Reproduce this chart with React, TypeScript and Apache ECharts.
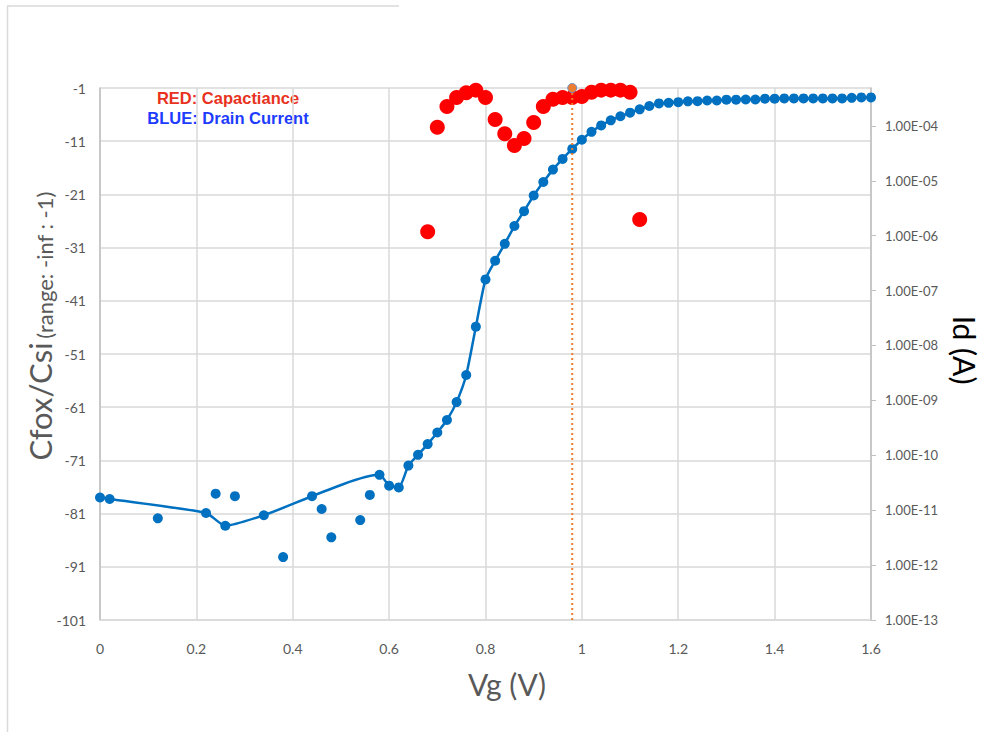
import React, { useEffect, useRef } from "react";
import * as echarts from "echarts";

// ---- Data ----
// Red: capacitance ratio Cfox/Csi (left axis)
const capVg = [0.68, 0.7, 0.72, 0.74, 0.76, 0.78, 0.8, 0.82, 0.84, 0.86, 0.88, 0.9, 0.92, 0.94, 0.96, 0.98, 1.0, 1.02, 1.04, 1.06, 1.08, 1.1, 1.12];
const capValues = [-28.0, -8.4, -4.5, -2.8, -1.9, -1.4, -2.8, -6.9, -9.6, -11.8, -10.5, -7.5, -4.5, -3.1, -2.8, -2.8, -2.6, -1.8, -1.4, -1.4, -1.4, -1.8, -25.7];

// Blue: drain current Id (A), points on the smoothed curve (right axis, log)
const idLineVg = [0, 0.02, 0.22, 0.26, 0.34, 0.58, 0.6, 0.62, 0.64, 0.66, 0.68, 0.7, 0.72, 0.74, 0.76, 0.78, 0.8, 0.82, 0.84, 0.86, 0.88, 0.9, 0.92, 0.94, 0.96, 0.98, 1.0, 1.02, 1.04, 1.06, 1.08, 1.1, 1.12, 1.14, 1.16, 1.18, 1.2, 1.22, 1.24, 1.26, 1.28, 1.3, 1.32, 1.34, 1.36, 1.38, 1.4, 1.42, 1.44, 1.46, 1.48, 1.5, 1.52, 1.54, 1.56, 1.58, 1.6];
const idLineValues = [1.7e-11, 1.6e-11, 8.9e-12, 5.2e-12, 8.1e-12, 4.4e-11, 2.8e-11, 2.6e-11, 6.5e-11, 1.02e-10, 1.6e-10, 2.6e-10, 4.4e-10, 9.3e-10, 2.9e-9, 2.2e-8, 1.6e-7, 3.5e-7, 7.1e-7, 1.5e-6, 2.8e-6, 5.4e-6, 9.5e-6, 1.6e-5, 2.5e-5, 3.8e-5, 5.6e-5, 7.8e-5, 1.02e-4, 1.26e-4, 1.5e-4, 1.74e-4, 2.0e-4, 2.3e-4, 2.57e-4, 2.63e-4, 2.7e-4, 2.8e-4, 2.82e-4, 2.9e-4, 2.9e-4, 3.0e-4, 3.0e-4, 3.02e-4, 3.02e-4, 3.13e-4, 3.13e-4, 3.16e-4, 3.16e-4, 3.16e-4, 3.16e-4, 3.16e-4, 3.16e-4, 3.16e-4, 3.24e-4, 3.3e-4, 3.3e-4];

// Blue: scattered drain current points off the curve
const idScatterVg = [0.12, 0.24, 0.28, 0.38, 0.44, 0.46, 0.48, 0.54, 0.56];
const idScatterValues = [7.1e-12, 2.0e-11, 1.8e-11, 1.4e-12, 1.8e-11, 1.05e-11, 3.2e-12, 6.6e-12, 1.9e-11];

// Vertical marker
const markerVg = 0.98;
const markerRange = [-1, -101];

// Axis settings (values)
const leftMin = -101;
const leftMax = -1;
const leftStep = 10;
const rightMinExp = -13;
const rightMaxExp = -3.31;
const xMin = 0;
const xMax = 1.6;
const xStep = 0.2;

const GRAY_TEXT = "#595959";
const GRID = "#D9D9D9";
const AXIS = "#BFBFBF";
const BLUE = "#0070C0";
const RED = "#FF0000";
const ORANGE = "#ED7D31";
const FONT = "Lato, 'Noto Sans', sans-serif";

function sciLabel(v: number): string {
  if (Math.abs(v - Math.round(v)) > 1e-6) return "";
  const e = Math.round(v);
  const sign = e < 0 ? "-" : "+";
  const a = Math.abs(e);
  return "1.00E" + sign + (a < 10 ? "0" + a : String(a));
}

export default function App() {
  const ref = useRef<HTMLDivElement>(null);

  useEffect(() => {
    if (!ref.current) return;
    const chart = echarts.init(ref.current, undefined, { renderer: "svg" });

    const option: any = {
      animation: false,
      backgroundColor: "#ffffff",
      grid: { left: 100, top: 88, width: 771, height: 532, containLabel: false },
      xAxis: {
        type: "value",
        min: xMin,
        max: xMax,
        interval: xStep,
        axisLine: { show: true, onZero: false, lineStyle: { color: GRID, width: 1.5 } },
        axisTick: { show: false },
        splitLine: { show: true, lineStyle: { color: GRID, width: 1.5 } },
        axisLabel: { color: GRAY_TEXT, fontSize: 14, fontFamily: FONT, margin: 21 },
      },
      yAxis: [
        {
          type: "value",
          min: leftMin,
          max: leftMax,
          interval: leftStep,
          axisLine: { show: true, onZero: false, lineStyle: { color: AXIS, width: 1.5 } },
          axisTick: { show: false },
          splitLine: { show: true, lineStyle: { color: GRID, width: 1.5 } },
          axisLabel: { color: GRAY_TEXT, fontSize: 14, fontFamily: FONT, margin: 14 },
        },
        {
          type: "value",
          position: "right",
          min: rightMinExp,
          max: rightMaxExp,
          interval: 1,
          axisLine: { show: true, onZero: false, lineStyle: { color: AXIS, width: 1.5 } },
          axisTick: { show: true, length: 5, lineStyle: { color: AXIS } },
          splitLine: { show: false },
          axisLabel: {
            color: GRAY_TEXT,
            fontSize: 13,
            fontFamily: FONT,
            margin: 14,
            showMaxLabel: false,
            formatter: (v: number) => sciLabel(v),
          },
        },
      ],
      series: [
        {
          name: "Drain Current",
          type: "line",
          yAxisIndex: 1,
          smooth: 0.2,
          data: idLineVg.map((x, i) => [x, Math.log10(idLineValues[i])]),
          symbol: "circle",
          symbolSize: 10,
          showSymbol: true,
          itemStyle: { color: BLUE, opacity: 1 },
          lineStyle: { color: BLUE, width: 2.5 },
          z: 2,
        },
        {
          name: "Drain Current (scatter)",
          type: "scatter",
          yAxisIndex: 1,
          data: idScatterVg.map((x, i) => [x, Math.log10(idScatterValues[i])]),
          symbol: "circle",
          symbolSize: 10,
          itemStyle: { color: BLUE, opacity: 1 },
          z: 2,
        },
        {
          name: "Capacitance",
          type: "scatter",
          yAxisIndex: 0,
          data: capVg.map((x, i) => [x, capValues[i]]),
          symbol: "circle",
          symbolSize: 15,
          itemStyle: { color: RED, opacity: 1 },
          z: 3,
        },
        {
          name: "Marker",
          type: "line",
          yAxisIndex: 0,
          data: [
            { value: [markerVg, markerRange[0]], symbol: "circle", symbolSize: 9 },
            { value: [markerVg, markerRange[1]], symbol: "none" },
          ],
          itemStyle: { color: ORANGE, borderColor: "#6F8FC7", borderWidth: 1, opacity: 1 },
          lineStyle: { color: ORANGE, width: 2, type: [2, 3] },
          z: 4,
        },
      ],
      graphic: [
        { type: "line", shape: { x1: 7, y1: 6, x2: 399, y2: 6 }, style: { stroke: GRID, lineWidth: 1.5 } },
        { type: "line", shape: { x1: 7.5, y1: 6, x2: 7.5, y2: 732 }, style: { stroke: GRID, lineWidth: 1.5 } },
        {
          type: "text",
          x: 228,
          y: 98,
          style: {
            text: "RED: Capactiance",
            fill: "#E8321E",
            font: "bold 16.5px 'Liberation Sans', Arial, sans-serif",
            align: "center",
            verticalAlign: "middle",
          },
        },
        {
          type: "text",
          x: 228,
          y: 118,
          style: {
            text: "BLUE: Drain Current",
            fill: "#1E3CFF",
            font: "bold 16.5px 'Liberation Sans', Arial, sans-serif",
            align: "center",
            verticalAlign: "middle",
          },
        },
        {
          type: "text",
          x: 507,
          y: 684,
          style: {
            text: "Vg (V)",
            fill: GRAY_TEXT,
            font: "30px Lato, sans-serif",
            align: "center",
            verticalAlign: "middle",
          },
        },
        {
          type: "text",
          x: 38,
          y: 326,
          rotation: Math.PI / 2,
          style: {
            text: "{a|Cfox/Csi} {b|(range: -inf : -1)}",
            fill: GRAY_TEXT,
            align: "center",
            verticalAlign: "middle",
            rich: {
              a: { fontSize: 31, fontFamily: "Lato, sans-serif", fill: GRAY_TEXT, verticalAlign: "bottom", lineHeight: 34 },
              b: { fontSize: 22, fontFamily: "Lato, sans-serif", fill: GRAY_TEXT, verticalAlign: "bottom", lineHeight: 30 },
            },
          },
        },
        {
          type: "text",
          x: 965,
          y: 350,
          rotation: -Math.PI / 2,
          style: {
            text: "Id (A)",
            fill: "#000000",
            font: "30px Lato, sans-serif",
            align: "center",
            verticalAlign: "middle",
          },
        },
      ],
    };

    chart.setOption(option);
    return () => chart.dispose();
  }, []);

  return (
    <div
      ref={ref}
      style={{ position: "fixed", left: 0, top: 0, width: 998, height: 732, background: "#fff" }}
    />
  );
}
